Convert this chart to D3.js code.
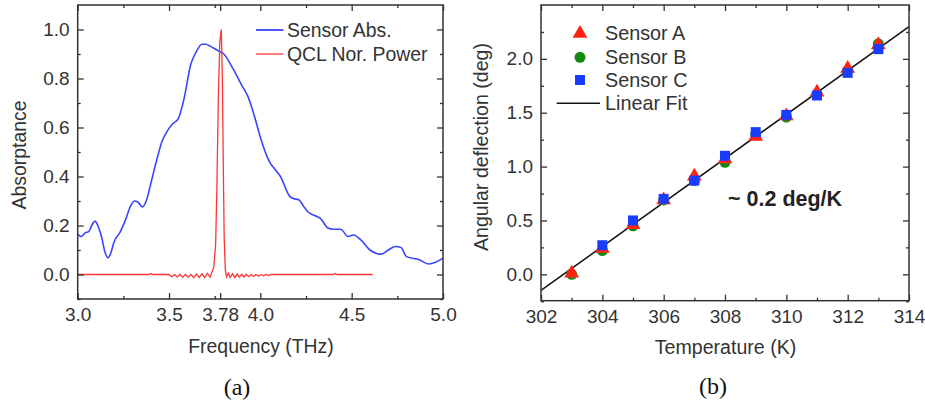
<!DOCTYPE html>
<html>
<head>
<meta charset="utf-8">
<script src="https://cdn.jsdelivr.net/npm/d3@7/dist/d3.min.js"></script>
<style>
  body { margin: 0; background: #fff; }
  svg { display: block; font-family: "Liberation Sans", Arial, sans-serif; }
  .tick text { fill: #333; font-size: 19px; }
  .tick line { stroke: #333; stroke-width: 1.3; }
</style>
</head>
<body>
<div id="vis"></div>
<script>
// ---- panel (a) data ----
var absFreq = [3.00, 3.02, 3.04, 3.06, 3.08, 3.095, 3.11, 3.13, 3.15, 3.165, 3.18, 3.20, 3.23, 3.26, 3.29, 3.31, 3.33, 3.355,
  3.375, 3.40, 3.43, 3.46, 3.49, 3.52, 3.55, 3.58, 3.62, 3.65, 3.68, 3.70, 3.73, 3.77, 3.80, 3.85, 3.90, 3.93, 3.97,
  4.00, 4.05, 4.08, 4.11, 4.16, 4.18, 4.21, 4.24, 4.26, 4.30, 4.33, 4.37, 4.40, 4.44, 4.48, 4.51, 4.55, 4.60, 4.64,
  4.66, 4.70, 4.74, 4.77, 4.80, 4.87, 4.92, 4.96, 5.00];
var absValue = [0.165, 0.155, 0.17, 0.175, 0.205, 0.218, 0.2, 0.155, 0.09, 0.068, 0.085, 0.135, 0.17, 0.22, 0.28, 0.30, 0.295, 0.276,
  0.30, 0.37, 0.46, 0.54, 0.585, 0.615, 0.635, 0.71, 0.86, 0.91, 0.94, 0.94, 0.93, 0.913, 0.90, 0.84, 0.77, 0.73, 0.64,
  0.56, 0.46, 0.43, 0.40, 0.32, 0.31, 0.305, 0.275, 0.256, 0.24, 0.228, 0.19, 0.185, 0.185, 0.155, 0.161, 0.141, 0.10, 0.085,
  0.083, 0.10, 0.114, 0.11, 0.073, 0.06, 0.043, 0.05, 0.067];

var qclFreq = [3.00, 3.39, 3.40, 3.41, 3.50, 3.515, 3.53, 3.545, 3.56, 3.575, 3.59, 3.605, 3.62, 3.635, 3.65, 3.665, 3.68, 3.695,
  3.71, 3.725, 3.735, 3.745, 3.755, 3.762, 3.770, 3.778, 3.786, 3.792, 3.797, 3.802, 3.808, 3.815, 3.825, 3.835, 3.848,
  3.86, 3.873, 3.885, 3.898, 3.91, 3.923, 3.936, 3.95, 3.963, 3.976, 3.99, 4.003, 4.017, 4.03, 4.043, 4.06, 4.40, 4.41,
  4.42, 4.615];
var qclPower = [0, 0, 0.004, 0, 0, -0.01, 0, -0.01, 0, -0.011, 0, -0.011, 0, -0.012, 0.002, -0.012, 0.003, -0.012,
  0.005, -0.01, 0.01, 0.03, 0.12, 0.35, 0.72, 0.95, 1.0, 0.8, 0.45, 0.15, 0.02, -0.01, 0.005, -0.012, 0.003,
  -0.012, 0.002, -0.011, 0.001, -0.01, 0.001, -0.009, 0, -0.008, 0, -0.007, 0, -0.005, 0, -0.004, 0, 0, 0.004,
  0, 0];

var freqTicks = [3.0, 3.5, 3.78, 4.0, 4.5, 5.0];
var freqMinor = [3.25, 3.75, 4.25, 4.75];
var absTicks = [0, 0.2, 0.4, 0.6, 0.8, 1.0];
var absMinor = [-0.1, 0.1, 0.3, 0.5, 0.7, 0.9];

// ---- panel (b) data ----
var temps = [303, 304, 305, 306, 307, 308, 309, 310, 311, 312, 313];
var sensorA = [0.01, 0.24, 0.46, 0.69, 0.91, 1.07, 1.28, 1.47, 1.69, 1.91, 2.13];
var sensorB = [0.0, 0.22, 0.45, 0.69, 0.87, 1.04, 1.30, 1.46, 1.67, 1.89, 2.14];
var sensorC = [null, 0.27, 0.50, 0.70, 0.87, 1.10, 1.32, 1.48, 1.66, 1.87, 2.09];
var fitTemp = [302, 314];
var fitValue = [-0.15, 2.30];

var tempTicks = [302, 304, 306, 308, 310, 312, 314];
var tempMinor = [303, 305, 307, 309, 311, 313];
var deflTicks = [0, 0.5, 1.0, 1.5, 2.0];
var deflMinor = [-0.25, 0.25, 0.75, 1.25, 1.75, 2.25];

var W = 925, H = 402;
var fmt1 = d3.format(".1f");

var svg = d3.select("#vis").append("svg")
  .attr("width", W)
  .attr("height", H);

svg.append("rect").attr("width", W).attr("height", H).attr("fill", "#fff");

// draws framed box with inward ticks on all four sides
function frame(g, x, y, xt, xm, yt, ym, xfmt, yfmt) {
  var x0 = x.range()[0], x1 = x.range()[1], y0 = y.range()[1], y1 = y.range()[0];
  var h = y1 - y0, w = x1 - x0;

  var bx = g.append("g").attr("transform", "translate(0," + y1 + ")")
    .call(d3.axisBottom(x).tickValues(xt).tickSize(-6).tickPadding(9).tickFormat(xfmt));
  bx.append("g").call(d3.axisBottom(x).tickValues(xm).tickSize(-3).tickFormat(""));
  var tx = g.append("g").attr("transform", "translate(0," + y0 + ")")
    .call(d3.axisTop(x).tickValues(xt).tickSize(-6).tickFormat(""));
  tx.append("g").call(d3.axisTop(x).tickValues(xm).tickSize(-3).tickFormat(""));

  var ly = g.append("g").attr("transform", "translate(" + x0 + ",0)")
    .call(d3.axisLeft(y).tickValues(yt).tickSize(-6).tickPadding(8).tickFormat(yfmt));
  ly.append("g").call(d3.axisLeft(y).tickValues(ym).tickSize(-3).tickFormat(""));
  var ry = g.append("g").attr("transform", "translate(" + x1 + ",0)")
    .call(d3.axisRight(y).tickValues(yt).tickSize(-6).tickFormat(""));
  ry.append("g").call(d3.axisRight(y).tickValues(ym).tickSize(-3).tickFormat(""));

  g.selectAll(".domain").remove();
  g.selectAll("text").attr("font-family", null).attr("font-size", null);

  g.append("rect")
    .attr("x", x0).attr("y", y0).attr("width", w).attr("height", h)
    .attr("fill", "none").attr("stroke", "#333").attr("stroke-width", 1.5);
}

// ================= panel (a) =================
var xa = d3.scaleLinear().domain([3.0, 5.0]).range([77.7, 443]);
var ya = d3.scaleLinear().domain([-0.1, 1.1]).range([299, 5]);
var ga = svg.append("g");

svg.append("clipPath").attr("id", "clipA")
  .append("rect").attr("x", 77.7).attr("y", 5).attr("width", 443 - 77.7).attr("height", 294);

var lineA = d3.line().x(function(d){ return xa(d[0]); }).y(function(d){ return ya(d[1]); }).curve(d3.curveMonotoneX);

ga.append("path")
  .datum(d3.zip(absFreq, absValue))
  .attr("clip-path", "url(#clipA)")
  .attr("d", lineA)
  .attr("fill", "none").attr("stroke", "#3b45ff").attr("stroke-width", 1.6);

ga.append("path")
  .datum(d3.zip(qclFreq, qclPower))
  .attr("d", d3.line().x(function(d){ return xa(d[0]); }).y(function(d){ return ya(d[1]); }))
  .attr("fill", "none").attr("stroke", "#ff3535").attr("stroke-width", 1.3);

frame(ga, xa, ya, freqTicks, freqMinor, absTicks, absMinor,
  function(d){ return d === 3.78 ? "3.78" : fmt1(d); }, fmt1);

// legend a
ga.append("line").attr("x1", 256).attr("x2", 283.5).attr("y1", 30).attr("y2", 30)
  .attr("stroke", "#3b45ff").attr("stroke-width", 1.8);
ga.append("text").attr("x", 287).attr("y", 30).attr("dy", "0.35em")
  .attr("font-size", 19.4).attr("fill", "#333").text("Sensor Abs.");
ga.append("line").attr("x1", 256).attr("x2", 283.5).attr("y1", 54).attr("y2", 54)
  .attr("stroke", "#ff3535").attr("stroke-width", 1.3);
ga.append("text").attr("x", 287).attr("y", 54).attr("dy", "0.35em")
  .attr("font-size", 19.4).attr("fill", "#333").text("QCL Nor. Power");

ga.append("text")
  .attr("transform", "translate(19,155) rotate(-90)")
  .attr("text-anchor", "middle").attr("dy", "0.35em")
  .attr("font-size", 19.4).attr("fill", "#333").text("Absorptance");
ga.append("text")
  .attr("x", 261).attr("y", 346).attr("text-anchor", "middle").attr("dy", "0.35em")
  .attr("font-size", 19.4).attr("fill", "#333").text("Frequency (THz)");
ga.append("text")
  .attr("x", 237).attr("y", 387).attr("text-anchor", "middle").attr("dy", "0.35em")
  .attr("font-family", "Liberation Serif, serif").attr("font-size", 24).attr("fill", "#111").text("(a)");

// ================= panel (b) =================
var xb = d3.scaleLinear().domain([302, 314]).range([541, 909]);
var yb = d3.scaleLinear().domain([-0.245, 2.5]).range([300.7, 5]);
var gb = svg.append("g");

gb.append("path")
  .datum(d3.zip(fitTemp, fitValue))
  .attr("d", d3.line().x(function(d){ return xb(d[0]); }).y(function(d){ return yb(d[1]); }))
  .attr("fill", "none").attr("stroke", "#111").attr("stroke-width", 1.5);

var triangle = d3.symbol().type(d3.symbolTriangle).size(95);
var square = d3.symbol().type(d3.symbolSquare).size(100);

var ptsB = d3.zip(temps, sensorB);
var ptsA = d3.zip(temps, sensorA);
var ptsC = d3.zip(temps, sensorC).filter(function(d){ return d[1] !== null; });

gb.selectAll(".ptB").data(ptsB).enter().append("circle")
  .attr("cx", function(d){ return xb(d[0]); }).attr("cy", function(d){ return yb(d[1]); })
  .attr("r", 5.5).attr("fill", "#148a14");
gb.selectAll(".ptA").data(ptsA).enter().append("path")
  .attr("transform", function(d){ return "translate(" + xb(d[0]) + "," + yb(d[1]) + ")"; })
  .attr("d", triangle).attr("fill", "#ff2410");
gb.selectAll(".ptC").data(ptsC).enter().append("path")
  .attr("transform", function(d){ return "translate(" + xb(d[0]) + "," + yb(d[1]) + ")"; })
  .attr("d", square).attr("fill", "#1a3cff");

frame(gb, xb, yb, tempTicks, tempMinor, deflTicks, deflMinor, d3.format("d"), fmt1);

// legend b
gb.append("path").attr("transform", "translate(580,33.5)").attr("d", triangle).attr("fill", "#ff2410");
gb.append("circle").attr("cx", 580).attr("cy", 57.3).attr("r", 5.5).attr("fill", "#148a14");
gb.append("path").attr("transform", "translate(580,80)").attr("d", square).attr("fill", "#1a3cff");
gb.append("line").attr("x1", 556.7).attr("x2", 600).attr("y1", 103.3).attr("y2", 103.3)
  .attr("stroke", "#111").attr("stroke-width", 1.5);
var legB = ["Sensor A", "Sensor B", "Sensor C", "Linear Fit"];
var legY = [33.3, 57.3, 80, 103.3];
legB.forEach(function(t, i){
  gb.append("text").attr("x", 605).attr("y", legY[i]).attr("dy", "0.35em")
    .attr("font-size", 19.8).attr("fill", "#333").text(t);
});

gb.append("text")
  .attr("x", 728).attr("y", 198.5).attr("dy", "0.35em")
  .attr("font-size", 21.5).attr("font-weight", "bold").attr("fill", "#222").text("~ 0.2 deg/K");

gb.append("text")
  .attr("transform", "translate(481,147) rotate(-90)")
  .attr("text-anchor", "middle").attr("dy", "0.35em")
  .attr("font-size", 19.6).attr("fill", "#333").text("Angular deflection (deg)");
gb.append("text")
  .attr("x", 725.5).attr("y", 347).attr("text-anchor", "middle").attr("dy", "0.35em")
  .attr("font-size", 19.6).attr("fill", "#333").text("Temperature (K)");
gb.append("text")
  .attr("x", 713).attr("y", 386).attr("text-anchor", "middle").attr("dy", "0.35em")
  .attr("font-family", "Liberation Serif, serif").attr("font-size", 24).attr("fill", "#111").text("(b)");
</script>
</body>
</html>
